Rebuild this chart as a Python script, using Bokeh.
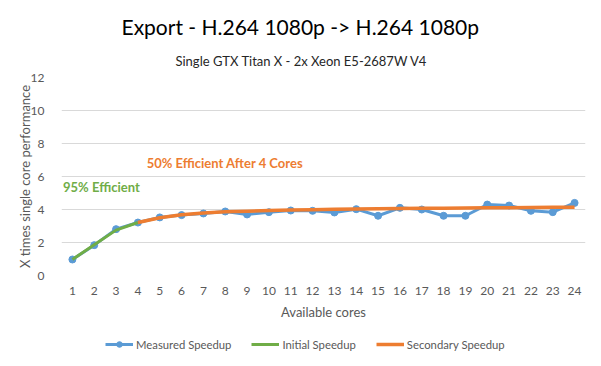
from bokeh.plotting import figure
from bokeh.models import Range1d, Title, Legend, LegendItem, FixedTicker
from bokeh.layouts import column
from bokeh.core.properties import value
from bokeh.embed import file_html
from bokeh.resources import INLINE

cores = list(range(1, 25))
measured = [0.97, 1.84, 2.81, 3.21, 3.52, 3.66, 3.76, 3.88, 3.70, 3.84, 3.94, 3.92,
            3.82, 4.02, 3.62, 4.10, 4.00, 3.62, 3.62, 4.30, 4.24, 3.92, 3.84, 4.40]
initial_cores = [1, 2, 3, 4]
initial = [0.97, 1.87, 2.75, 3.21]
secondary_cores = list(range(4, 25))
secondary = [3.21, 3.50, 3.68, 3.79, 3.86, 3.90, 3.94, 3.97, 3.99, 4.01, 4.03,
             4.05, 4.06, 4.07, 4.08, 4.09, 4.10, 4.11, 4.12, 4.13, 4.14]
y_ticks = [0, 2, 4, 6, 8, 10, 12]
series_names = ["Measured Speedup", "Initial Speedup", "Secondary Speedup"]

FONT = "Lato"
BLUE = "#5B9BD5"
GREEN = "#70AD47"
ORANGE = "#ED7D31"
GRAY = "#595959"


def draw_series(fig):
    a = fig.line(cores, measured, line_color=BLUE, line_width=3)
    b = fig.scatter(cores, measured, size=7, fill_color=BLUE, line_color=BLUE)
    c = fig.line(initial_cores, initial, line_color=GREEN, line_width=3)
    d = fig.line(secondary_cores, secondary, line_color=ORANGE, line_width=3.5)
    return a, b, c, d


p = figure(width=601, height=330, output_backend="svg", toolbar_location=None,
           x_range=Range1d(0.5, 24.5), y_range=Range1d(0, 12),
           min_border_left=61, min_border_right=16, min_border_top=77, min_border_bottom=55)
p.outline_line_color = None
p.xgrid.grid_line_color = None
p.ygrid.grid_line_color = "#D9D9D9"

p.add_layout(Title(text="Single GTX Titan X - 2x Xeon E5-2687W  V4", align="left",
                   text_font=FONT, text_font_size="13px", text_font_style="normal",
                   text_color="#262626", offset=114, standoff=17), "above")
p.add_layout(Title(text="Export - H.264 1080p -> H.264 1080p", align="left",
                   text_font=FONT, text_font_size="21px", text_font_style="normal",
                   text_color="#000000", offset=60, standoff=8), "above")

for ax in (p.xaxis[0], p.yaxis[0]):
    ax.axis_line_color = None
    ax.major_tick_line_color = None
    ax.minor_tick_line_color = None
    ax.major_label_text_font = FONT
    ax.major_label_text_font_size = "12px"
    ax.major_label_text_color = GRAY
    ax.axis_label_text_font = FONT
    ax.axis_label_text_font_size = "13px"
    ax.axis_label_text_font_style = "normal"
    ax.axis_label_text_color = GRAY

p.xaxis.ticker = FixedTicker(ticks=cores)
p.yaxis.ticker = FixedTicker(ticks=y_ticks)
p.xaxis.axis_label = "Available cores"
p.yaxis.axis_label = "X times single core performance"
p.xaxis.major_label_standoff = 5
p.yaxis.major_label_standoff = 11
p.xaxis.axis_label_standoff = 6
p.yaxis.axis_label_standoff = -5

draw_series(p)

p.text(x=[4.4], y=[6.84], text=["50% Efficient After 4 Cores"], text_color=ORANGE,
       text_font=value(FONT), text_font_size="13px", text_font_style="bold",
       text_baseline="alphabetic", text_align="left")
p.text(x=[0.57], y=[5.37], text=["95% Efficient"], text_color=GREEN,
       text_font=value(FONT), text_font_size="13px", text_font_style="bold",
       text_baseline="alphabetic", text_align="left")

# legend strip (series drawn out of view, only the legend shows)
lg = figure(width=601, height=36, output_backend="svg", toolbar_location=None,
            x_range=Range1d(0.5, 24.5), y_range=Range1d(-20, -19),
            min_border=0, min_border_left=0, min_border_right=0,
            min_border_top=0, min_border_bottom=0)
lg.axis.visible = False
lg.grid.visible = False
lg.outline_line_color = None
l1, l1c, l2, l3 = draw_series(lg)

legend = Legend(items=[LegendItem(label=series_names[0], renderers=[l1, l1c]),
                       LegendItem(label=series_names[1], renderers=[l2]),
                       LegendItem(label=series_names[2], renderers=[l3])],
                orientation="horizontal", location=(44, 15),
                padding=0, margin=0, spacing=20, glyph_width=28, glyph_height=14,
                label_height=14, label_standoff=3,
                label_text_font=FONT, label_text_font_size="11.3px", label_text_color=GRAY,
                border_line_color=None, background_fill_alpha=0)
lg.add_layout(legend, "center")

layout = column(p, lg, spacing=0)
open("out.html", "w").write(file_html(layout, INLINE))
